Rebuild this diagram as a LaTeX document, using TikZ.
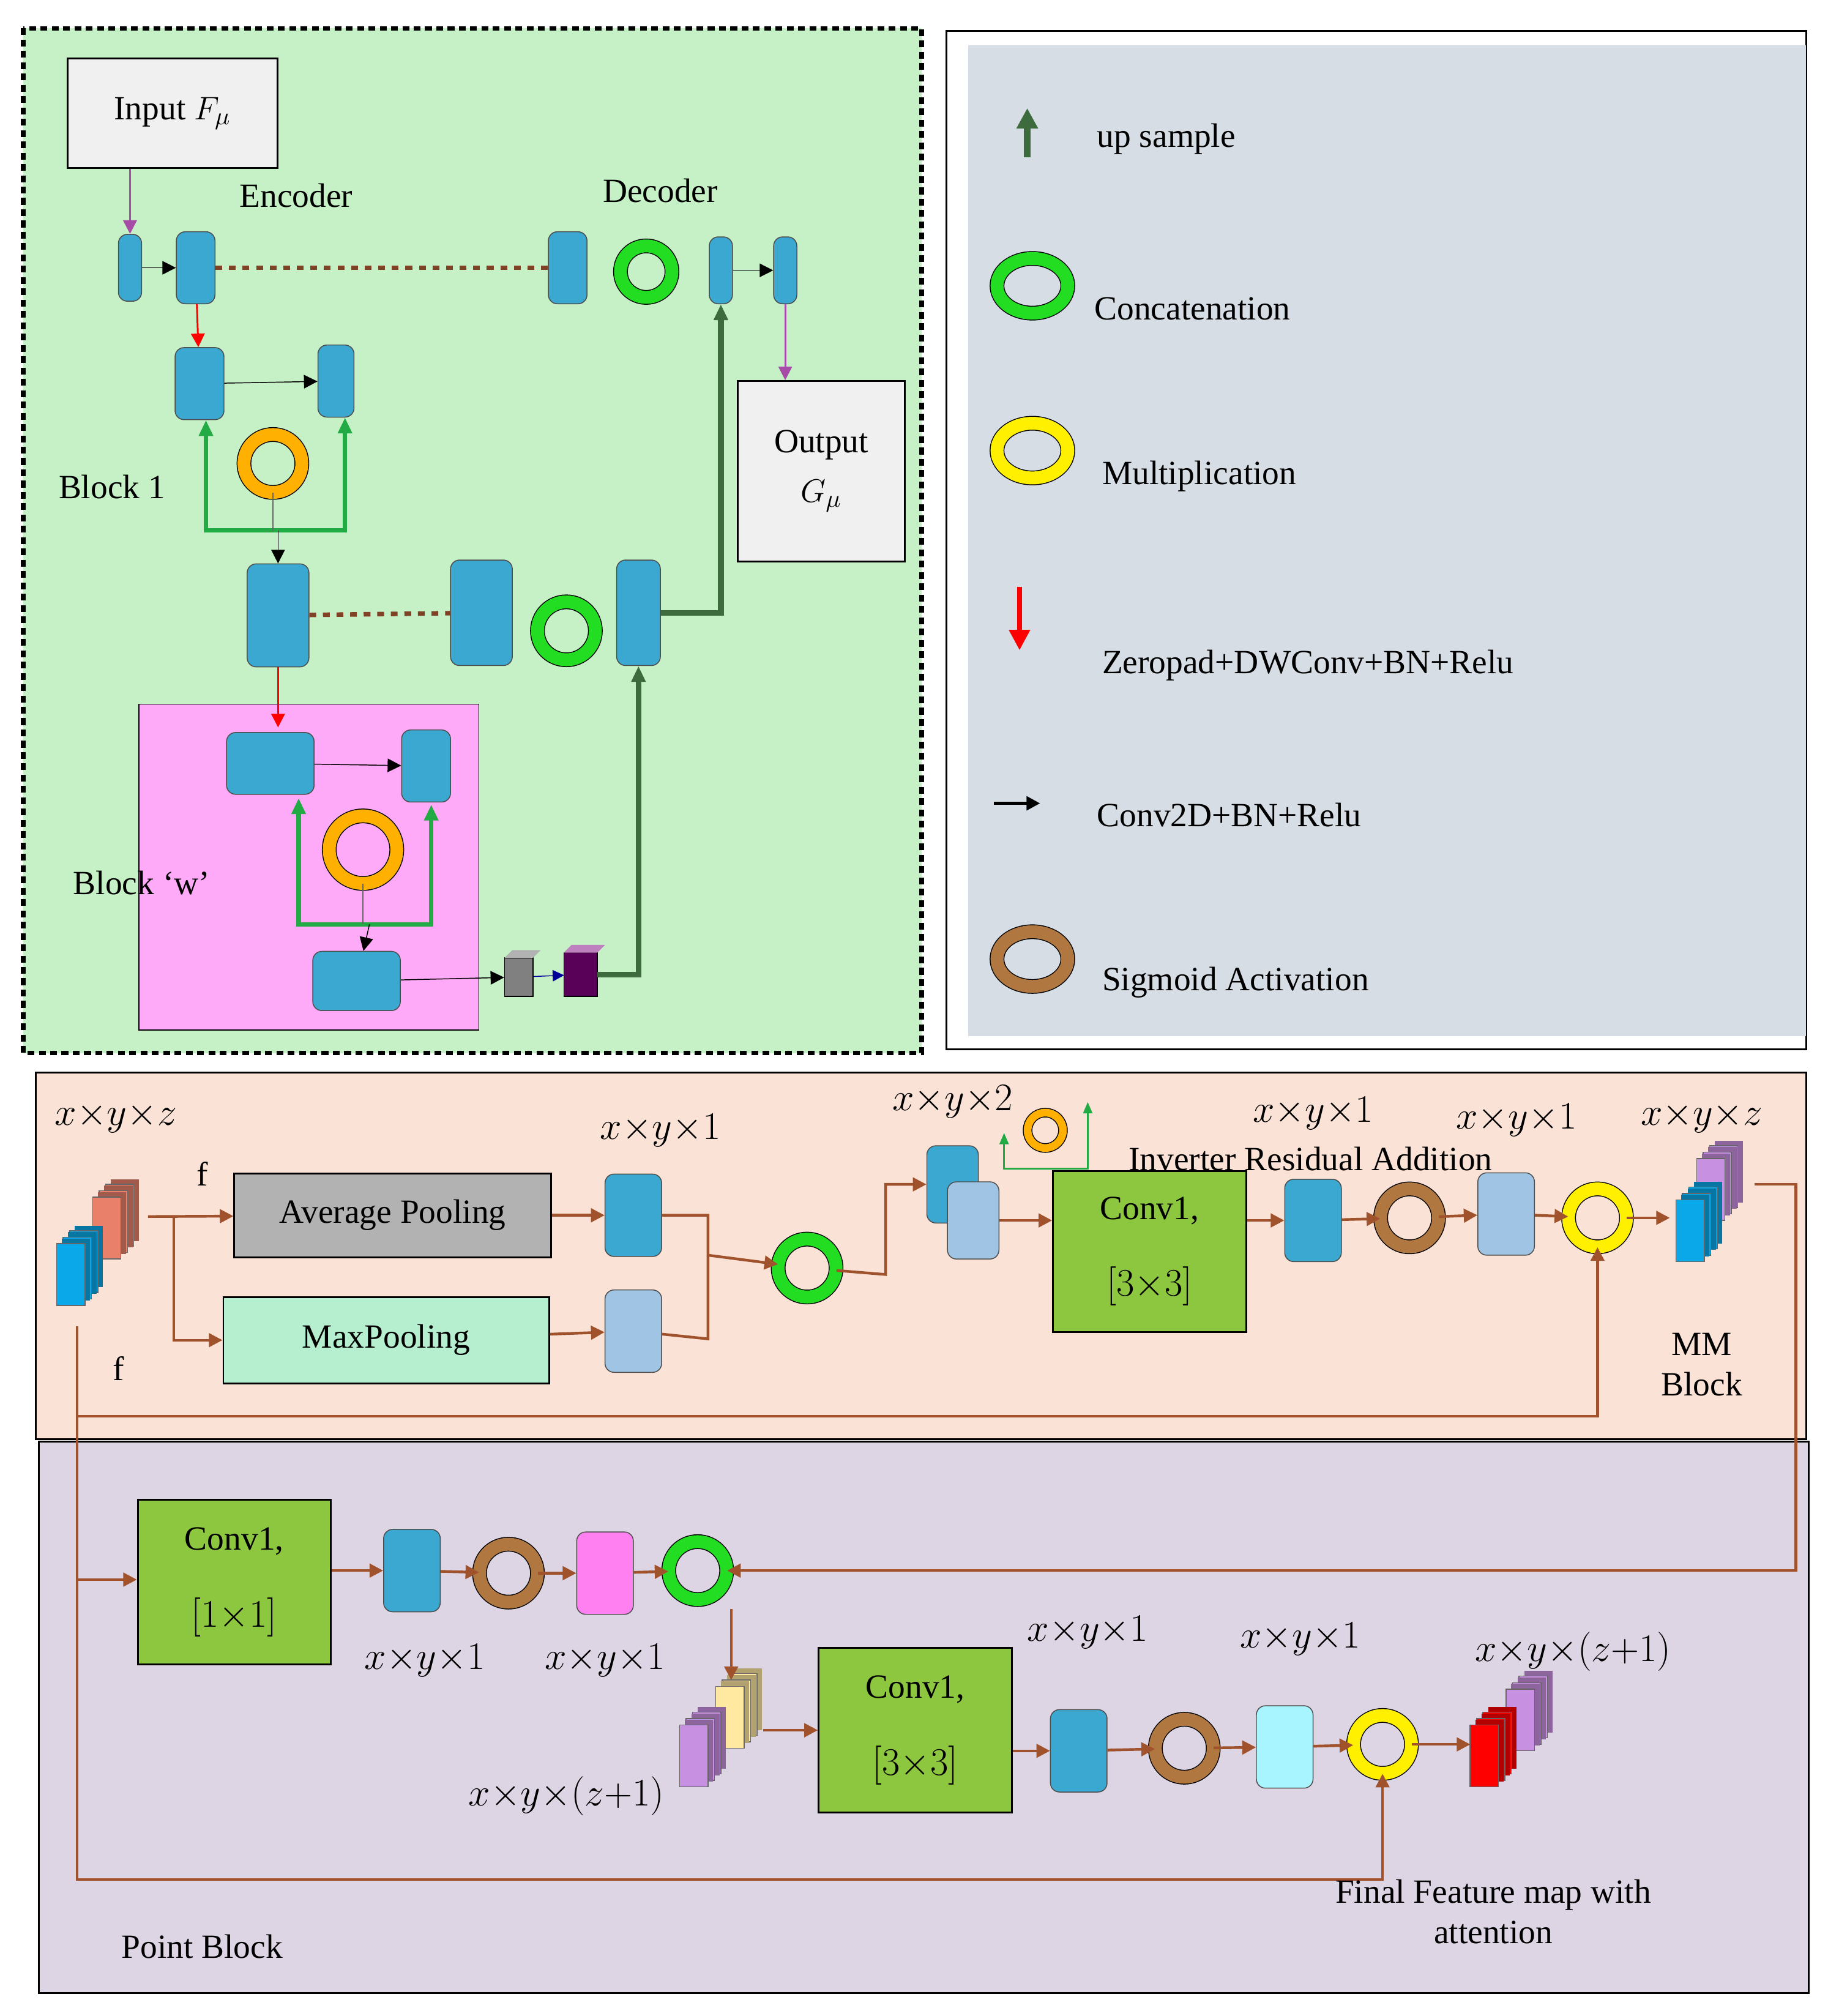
\documentclass[tikz,border=0pt]{standalone}
\usepackage{fontspec}
\setmainfont{Liberation Serif}
\usetikzlibrary{shapes.misc, shapes.geometric, arrows.meta, positioning}
\definecolor{panelgreen}{HTML}{C6F0C6}
\definecolor{legendgray}{HTML}{D6DDE4}
\definecolor{peach}{HTML}{FAE3D6}
\definecolor{lavender}{HTML}{DDD5E3}
\definecolor{pinkbox}{HTML}{FFAAF8}
\definecolor{tealblk}{HTML}{3AA8D0}
\definecolor{lightblk}{HTML}{A0C4E4}
\definecolor{cyanblk}{HTML}{A8F4FF}
\definecolor{convgreen}{HTML}{8DC63F}
\definecolor{mintbox}{HTML}{B5EFCF}
\definecolor{brownline}{HTML}{A0522D}
\definecolor{darkgreen}{HTML}{3E6B3E}
\definecolor{ringgreen}{HTML}{22DD22}
\definecolor{ringorange}{HTML}{FFB000}
\definecolor{ringyellow}{HTML}{FFF000}
\definecolor{ringbrown}{HTML}{B07840}
\definecolor{arrowgreen}{HTML}{22AA44}
\definecolor{cubesalmon}{HTML}{E8806A}
\definecolor{cubeblue}{HTML}{0AA8E8}
\definecolor{cubeviolet}{HTML}{C890E0}
\definecolor{cubecream}{HTML}{FFE8A0}
\definecolor{cubepink}{HTML}{FF80F0}
\tikzset{
  blk/.style={rectangle, rounded corners=0.14cm, draw=black!70, fill=tealblk, inner sep=0pt},
  ring/.style={circle, draw=black, double=#1, double distance=0.2cm, minimum size=0.75cm, inner sep=0pt},
  box/.style={draw=black, thick, align=center, inner sep=0pt},
  br/.style={brownline, line width=1.2pt},
  bra/.style={br, -{Triangle[length=6pt,width=6pt]}},
  ka/.style={-{Triangle[length=6pt,width=6pt]}, black},
  lbl/.style={font=\fontsize{15}{18}\selectfont, align=center},
  conv/.style={box, fill=convgreen, minimum width=3cm, lbl, font=\fontsize{15}{34}\selectfont},
  dims/.style={font=\fontsize{17}{18}\selectfont}
}
\newcommand{\cubes}[4]{% x, y, color, n
  \foreach \k in {#4,...,0}{
    \fill[#3!70!black] ({#1+\k*5+4},{#2-\k*5-4}) rectangle ({#1+\k*5+26},{#2-\k*5+44});
    \filldraw[fill=#3, draw=black!60] ({#1+\k*5},{#2-\k*5}) rectangle ({#1+\k*5+22},{#2-\k*5+48});
  }}
\newcommand{\xyz}[1]{$x{\times}y{\times}#1$}
\begin{document}
\begin{tikzpicture}[x=0.02cm, y=-0.02cm]
\useasboundingbox (0,0) rectangle (1420,1566);
% top left panel
\filldraw[fill=panelgreen, draw=black, line width=2pt, dash pattern=on 3pt off 2pt] (18,22) rectangle (716,818);
\node[box, fill=black!6, minimum width=3.26cm, minimum height=1.7cm, lbl] (inp) at (134,88) {Input $F_\mu$};
\node[lbl] at (230,152) {Encoder};
\node[lbl] at (513,148) {Decoder};
\node[blk, minimum width=0.36cm, minimum height=1.04cm] (e1) at (101,208) {};
\node[blk, minimum width=0.6cm, minimum height=1.12cm] (e2) at (152,208) {};
\node[blk, minimum width=0.6cm, minimum height=1.12cm] (d1) at (441,208) {};
\node[ring=ringgreen, minimum size=0.8cm] (dr) at (502,211) {};
\node[blk, minimum width=0.36cm, minimum height=1.04cm] (d2) at (560,210) {};
\node[blk, minimum width=0.36cm, minimum height=1.04cm] (d3) at (610,210) {};
\node[box, fill=black!6, minimum width=2.6cm, minimum height=2.8cm, lbl] (out) at (638,366) {Output\\[4pt] $G_\mu$};
\draw[brownline!80!black, line width=2pt, dashed] (e2) -- (d1);
\draw[violet!70, thick, -{Triangle[length=6pt,width=6pt]}] (inp.south -| e1) -- (e1);
\draw[ka] (e1) -- (e2);
\draw[ka] (d2) -- (d3);
\draw[violet!70, thick, -{Triangle[length=6pt,width=6pt]}] (d3) -- (out.north -| d3);
% block 1
\node[blk, minimum width=0.76cm, minimum height=1.12cm] (b1a) at (155,298) {};
\node[blk, minimum width=0.56cm, minimum height=1.12cm] (b1b) at (261,296) {};
\node[ring=ringorange, minimum size=0.9cm] (r1) at (212,360) {};
\node[lbl] at (87,378) {Block 1};
\draw[ka] (b1a) -- (b1b);
\draw[red, thick, -{Triangle[length=6pt,width=6pt]}] (e2) -- (b1a);
\draw[arrowgreen, line width=2pt, -{Triangle[length=7pt,width=6pt]}] (268,412) -| (b1a.south -| 160,0);
\draw[arrowgreen, line width=2pt, -{Triangle[length=7pt,width=6pt]}] (160,412) -| (b1b.south -| 268,0);
\node[blk, minimum width=0.96cm, minimum height=1.6cm] (b2) at (216,478) {};
\node[blk, minimum width=0.96cm, minimum height=1.64cm] (b3) at (374,476) {};
\node[ring=ringgreen, minimum size=0.9cm] (r2) at (440,490) {};
\node[blk, minimum width=0.68cm, minimum height=1.64cm] (b4) at (496,476) {};
\draw[black!60] (r1) -- (212,412);
\draw[ka] (216,412) -- (b2);
\draw[brownline!80!black, line width=2pt, dashed] (b2) -- (b3);
\draw[darkgreen, line width=2.5pt, -{Triangle[length=7pt,width=6pt]}] (b4) -| (d2);
% block w
\filldraw[fill=pinkbox, draw=black] (108,547) rectangle (372,800);
\node[lbl] at (110,686) {Block `w'};
\node[blk, minimum width=1.36cm, minimum height=0.96cm] (p1) at (210,593) {};
\node[blk, minimum width=0.76cm, minimum height=1.12cm] (p2) at (331,595) {};
\node[ring=ringorange, minimum size=1.05cm] (r3) at (282,660) {};
\node[blk, minimum width=1.36cm, minimum height=0.92cm] (p3) at (277,762) {};
\draw[red, thick, -{Triangle[length=6pt,width=6pt]}] (b2) -- (b2 |- 0,565);
\draw[ka] (p1) -- (p2);
\draw[arrowgreen, line width=2pt, -{Triangle[length=7pt,width=6pt]}] (335,718) -| (232,620);
\draw[arrowgreen, line width=2pt, -{Triangle[length=7pt,width=6pt]}] (232,718) -| (335,625);
\draw[black!60] (r3) -- (282,718);
\draw[ka] (287,718) -- (p3);
\filldraw[fill=gray, draw=black] (392,744) rectangle (414,774);
\fill[gray!60] (392,744) -- (398,738) -- (420,738) -- (414,744) -- cycle;
\node[inner sep=0, minimum size=0.44cm] (gc) at (403,759) {};
\filldraw[fill=violet!70!black, draw=black] (438,740) rectangle (464,774);
\fill[violet!50] (438,740) -- (444,734) -- (470,734) -- (464,740) -- cycle;
\node[inner sep=0, minimum size=0.5cm] (pc) at (451,757) {};
\draw[ka] (p3) -- (gc);
\draw[blue!60!black, -{Triangle[length=5pt,width=5pt]}] (gc) -- (pc);
\draw[darkgreen, line width=2.5pt, -{Triangle[length=7pt,width=6pt]}] (pc) -| (b4);
% legend
\draw[black, thick, fill=white] (735,24) rectangle (1403,815);
\fill[legendgray] (752,35) rectangle (1403,805);
\coordinate (la1) at (798,122); \coordinate (la2) at (798,84);
\draw[darkgreen, line width=3pt, -{Triangle[length=9pt,width=9pt]}] (la1) -- (la2);
\node[lbl, anchor=west] at (846,108) {up sample};
\node[ring=ringgreen, ellipse, minimum width=1.1cm, minimum height=0.85cm] at (802,222) {};
\node[lbl, anchor=west] at (844,240) {Concatenation};
\node[ring=ringyellow, ellipse, minimum width=1.1cm, minimum height=0.85cm] at (802,350) {};
\node[lbl, anchor=west] at (850,370) {Multiplication};
\coordinate (lr1) at (792,456); \coordinate (lr2) at (792,505);
\draw[red, line width=2pt, -{Triangle[length=9pt,width=9pt]}] (lr1) -- (lr2);
\node[lbl, anchor=west] at (850,517) {Zeropad+DWConv+BN+Relu};
\coordinate (lk1) at (772,624); \coordinate (lk2) at (808,624);
\draw[ka, line width=1.5pt] (lk1) -- (lk2);
\node[lbl, anchor=west] at (846,633) {Conv2D+BN+Relu};
\node[ring=ringbrown, ellipse, minimum width=1.1cm, minimum height=0.85cm] at (802,745) {};
\node[lbl, anchor=west] at (850,763) {Sigmoid Activation};
% MM block
\filldraw[fill=peach, draw=black, thick] (28,833) rectangle (1403,1118);
\filldraw[fill=lavender, draw=black, thick] (30,1120) rectangle (1405,1548);
\cubes{72}{930}{cubesalmon}{2}
\cubes{44}{966}{cubeblue}{2}
\node[inner sep=0, minimum width=1.4cm, minimum height=2.4cm] (mmin) at (78,990) {};
\node[dims] at (90,868) {\xyz{z}};
\node[lbl] at (157,912) {f};
\node[lbl] at (92,1063) {f};
\node[box, fill=black!30, minimum width=4.92cm, minimum height=1.3cm, lbl] (avg) at (305,944) {Average Pooling};
\node[box, fill=mintbox, minimum width=5.06cm, minimum height=1.34cm, lbl] (maxp) at (300,1041) {MaxPooling};
\coordinate (fa) at (115,945); \coordinate (fb) at (135,945);
\draw[bra] (fa) -- (avg);
\draw[bra] (fb) |- (maxp);
\node[blk, minimum width=0.88cm, minimum height=1.28cm] (q1) at (492,944) {};
\node[blk, fill=lightblk, minimum width=0.88cm, minimum height=1.28cm] (q2) at (492,1034) {};
\node[dims] at (513,878) {\xyz{1}};
\draw[bra] (avg) -- (q1);
\draw[bra] (maxp) -- (q2);
\node[ring=ringgreen, minimum size=0.9cm] (c1) at (627,985) {};
\draw[br] (q1) -| (550,1040) -- (q2);
\draw[bra] (550,975) -- (c1);
\node[blk, minimum width=0.8cm, minimum height=1.2cm] (q3) at (740,920) {};
\node[blk, fill=lightblk, minimum width=0.8cm, minimum height=1.2cm] (q4) at (756,948) {};
\draw[bra] (c1) -- (688,990) |- (q3);
\node[dims] at (740,856) {\xyz{2}};
\node[ring=ringorange, minimum size=0.55cm, double distance=0.12cm] (sr) at (812,878) {};
\draw[arrowgreen, thick, -{Triangle[length=5pt,width=4pt]}] (845,908) -| (780,880);
\draw[arrowgreen, thick, -{Triangle[length=5pt,width=4pt]}] (840,908) -- (845,908) -- (845,856);
\node[lbl] at (1018,900) {Inverter Residual Addition};
\node[conv, minimum height=2.5cm] (cv1) at (893,972) {Conv1,\\ \LARGE$[3{\times}3]$};
\draw[bra] (q4) -- (cv1.west |- q4);
\node[blk, minimum width=0.88cm, minimum height=1.28cm] (q5) at (1020,948) {};
\node[ring=ringbrown, minimum size=0.9cm] (s1) at (1095,946) {};
\node[blk, fill=lightblk, minimum width=0.88cm, minimum height=1.28cm] (q6) at (1170,943) {};
\node[ring=ringyellow, minimum size=0.9cm] (m1) at (1241,946) {};
\draw[bra] (cv1.east |- q5) -- (q5);
\draw[bra] (q5) -- (s1);
\draw[bra] (s1) -- (q6);
\draw[bra] (q6) -- (m1);
\node[dims] at (1020,865) {\xyz{1}};
\node[dims] at (1178,870) {\xyz{1}};
\node[dims] at (1322,868) {\xyz{z}};
\cubes{1318}{900}{cubeviolet}{2}
\cubes{1302}{932}{cubeblue}{2}
\node[inner sep=0, minimum width=1.3cm, minimum height=2cm] (mmout) at (1330,945) {};
\draw[bra] (m1) -- (mmout.west |- m1);
\node[lbl] at (1322,1060) {MM\\Block};
\draw[bra] (60,1030) -- (60,1100) -| (m1);
% point block
\node[conv, minimum height=2.56cm] (cv2) at (182,1229) {Conv1,\\ \LARGE$[1{\times}1]$};
\draw[bra] (60,1227) -- (cv2.west |- 0,1227);
\node[blk, minimum width=0.88cm, minimum height=1.28cm] (t1) at (320,1220) {};
\node[ring=ringbrown, minimum size=0.9cm] (s2) at (395,1222) {};
\node[blk, fill=cubepink, minimum width=0.88cm, minimum height=1.28cm] (t2) at (470,1222) {};
\node[ring=ringgreen, minimum size=0.9cm] (c2) at (542,1220) {};
\draw[bra] (cv2.east |- t1) -- (t1);
\draw[bra] (t1) -- (s2);
\draw[bra] (s2) -- (t2);
\draw[bra] (t2) -- (c2);
\draw[bra] (mmout.east |- 0,920) -- (1395,920) |- (c2);
\node[dims] at (330,1290) {\xyz{1}};
\node[dims] at (470,1290) {\xyz{1}};
\cubes{556}{1310}{cubecream}{2}
\cubes{528}{1340}{cubeviolet}{2}
\node[inner sep=0, minimum width=1.3cm, minimum height=2cm] (pin) at (560,1350) {};
\draw[bra] (568,1250) -- (568,1305);
\node[dims] at (440,1395) {\xyz{(z{+}1)}};
\node[conv, minimum height=2.56cm] (cv3) at (711,1344) {Conv1,\\ \LARGE$[3{\times}3]$};
\draw[bra] (pin.east |- cv3) -- (cv3);
\node[blk, minimum width=0.88cm, minimum height=1.28cm] (t3) at (838,1360) {};
\node[ring=ringbrown, minimum size=0.9cm] (s3) at (920,1358) {};
\node[blk, fill=cyanblk, minimum width=0.88cm, minimum height=1.28cm] (t4) at (998,1357) {};
\node[ring=ringyellow, minimum size=0.9cm] (m2) at (1074,1355) {};
\draw[bra] (cv3.east |- t3) -- (t3);
\draw[bra] (t3) -- (s3);
\draw[bra] (s3) -- (t4);
\draw[bra] (t4) -- (m2);
\cubes{1170}{1312}{cubeviolet}{2}
\cubes{1142}{1340}{red}{2}
\node[inner sep=0, minimum width=1.3cm, minimum height=2cm] (fout) at (1175,1355) {};
\draw[bra] (m2) -- (fout.west |- m2);
\node[dims] at (845,1268) {\xyz{1}};
\node[dims] at (1010,1273) {\xyz{1}};
\node[dims] at (1222,1283) {\xyz{(z{+}1)}};
\draw[bra] (60,1100) -- (60,1460) -| (m2);
\node[lbl] at (1160,1485) {Final Feature map with\\attention};
\node[lbl] at (157,1512) {Point Block};
\end{tikzpicture}
\end{document}
